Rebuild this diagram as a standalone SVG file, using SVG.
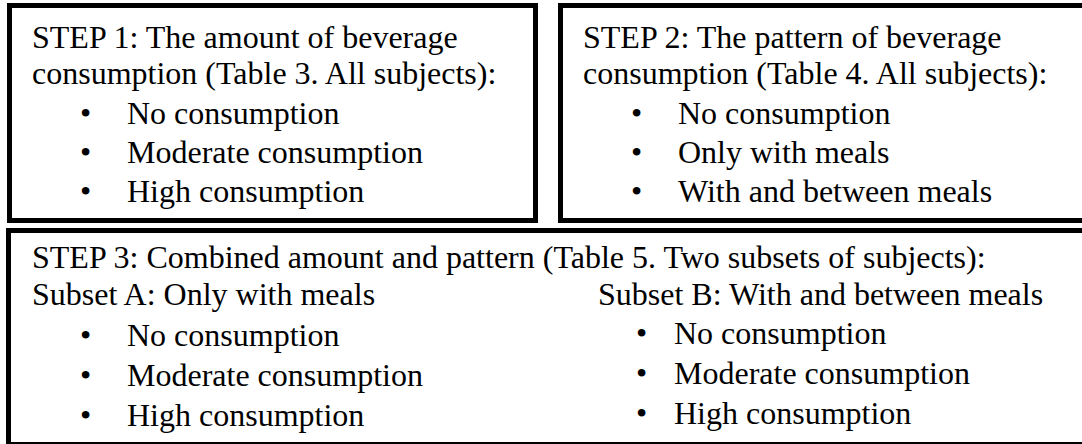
<svg xmlns="http://www.w3.org/2000/svg" width="1082" height="444" viewBox="0 0 1082 444">
<style>
.box{fill:#fff;stroke:#000;stroke-width:5}
text{font-family:"Liberation Serif","Times New Roman",serif;font-size:32px;fill:#000}
</style>
<rect width="1082" height="444" fill="#fff"/>
<g id="step1">
<rect class="box" x="9.5" y="5.5" width="526" height="215"/>
<text x="32" y="48">STEP 1: The amount of beverage</text>
<text x="32" y="84">consumption (Table 3. All subjects):</text>
<text x="80" y="124">•</text><text x="127" y="124">No consumption</text>
<text x="80" y="163">•</text><text x="127" y="163">Moderate consumption</text>
<text x="80" y="202">•</text><text x="127" y="202">High consumption</text>
</g>
<g id="step2">
<rect class="box" x="560.5" y="5.5" width="540" height="215"/>
<text x="583" y="48">STEP 2: The pattern of beverage</text>
<text x="583" y="84">consumption (Table 4. All subjects):</text>
<text x="631" y="124">•</text><text x="678" y="124">No consumption</text>
<text x="631" y="163">•</text><text x="678" y="163">Only with meals</text>
<text x="631" y="202">•</text><text x="678" y="202">With and between meals</text>
</g>
<g id="step3">
<rect class="box" x="8.5" y="230.5" width="1100" height="214"/>
<text x="32" y="268">STEP 3: Combined amount and pattern (Table 5. Two subsets of subjects):</text>
<text x="32" y="305">Subset A: Only with meals</text>
<text x="80" y="346">•</text><text x="127" y="346">No consumption</text>
<text x="80" y="386">•</text><text x="127" y="386">Moderate consumption</text>
<text x="80" y="426">•</text><text x="127" y="426">High consumption</text>
<text x="598" y="305">Subset B: With and between meals</text>
<text x="636" y="344">•</text><text x="674" y="344">No consumption</text>
<text x="636" y="384">•</text><text x="674" y="384">Moderate consumption</text>
<text x="636" y="424">•</text><text x="674" y="424">High consumption</text>
</g>
<g id="connectors"></g>
</svg>
